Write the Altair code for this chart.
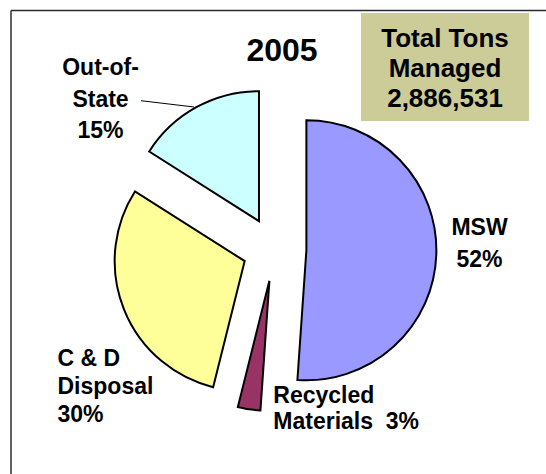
import altair as alt
import pandas as pd

# ---- data ----
categories = ["MSW", "Recycled Materials", "C & D Disposal", "Out-of-State"]
shares = [51.1, 2.8, 30.1, 16.0]          # slice sizes (percent of total tons)
slice_colors = ["#9999FF", "#993366", "#FFFF99", "#CCFFFF"]
label_lines = [["MSW", "52%"],
               ["Recycled", "Materials\u00a0\u00a03%"],
               ["C & D", "Disposal", "30%"],
               ["Out-of-", "State", "15%"]]
title_text = "2005"
total_lines = ["Total Tons", "Managed", "2,886,531"]

# ---- layout / style (pixels) ----
W, H = 546, 474
CX, CY, R, EXPLODE = 274.4, 249.2, 130, 32
FONT = "Liberation Sans"
# per label: x anchor, first baseline y, line height, align
label_layout = [(479.5, 235, 31.7, "center"),
                (273.3, 402.7, 26.7, "left"),
                (57.5, 365.7, 28.0, "left"),
                (100.5, 75, 31.7, "center")]

pie_df = pd.DataFrame({"category": categories, "share": shares,
                       "order": list(range(len(categories)))})

color_scale = alt.Scale(domain=categories, range=slice_colors)

pie = (
    alt.Chart(pie_df)
    .transform_window(cum="sum(share)", sort=[alt.SortField("order")], frame=[None, 0])
    .transform_joinaggregate(total="sum(share)")
    .transform_calculate(
        t1="datum.cum / datum.total * 2 * PI",
        t0="(datum.cum - datum.share) / datum.total * 2 * PI",
    )
    .transform_calculate(mid="(datum.t0 + datum.t1) / 2")
    .transform_calculate(
        px=f"{CX} + {EXPLODE} * sin(datum.mid)",
        py=f"{CY} - {EXPLODE} * cos(datum.mid)",
    )
    .mark_arc(radius=R, stroke="black", strokeWidth=2, strokeJoin="miter")
    .encode(
        theta=alt.Theta("t0:Q", scale=None),
        theta2=alt.Theta2("t1:Q"),
        x=alt.X("px:Q", scale=None, axis=None),
        y=alt.Y("py:Q", scale=None, axis=None),
        color=alt.Color("category:N", scale=color_scale, legend=None),
    )
)

# label rows
rows = []
for lines, (lx, ly, lh, al) in zip(label_lines, label_layout):
    for i, t in enumerate(lines):
        rows.append({"text": t, "lx": lx, "ly": ly + i * lh, "align": al})
lab_df = pd.DataFrame(rows)

labels_center = (
    alt.Chart(lab_df[lab_df["align"] == "center"])
    .mark_text(font=FONT, fontSize=23, fontWeight="bold", align="center",
               baseline="alphabetic", color="black")
    .encode(x=alt.X("lx:Q", scale=None), y=alt.Y("ly:Q", scale=None), text="text:N")
)
labels_left = (
    alt.Chart(lab_df[lab_df["align"] == "left"])
    .mark_text(font=FONT, fontSize=23, fontWeight="bold", align="left",
               baseline="alphabetic", color="black")
    .encode(x=alt.X("lx:Q", scale=None), y=alt.Y("ly:Q", scale=None), text="text:N")
)

leader = alt.Chart(pd.DataFrame({"a": [0]})).mark_rule(color="black", strokeWidth=1).encode(
    x=alt.value(141), y=alt.value(100.7), x2=alt.value(194), y2=alt.value(107)
)

title = alt.Chart(pd.DataFrame({"t": [title_text]})).mark_text(
    font=FONT, fontSize=32, fontWeight="bold", align="center", baseline="alphabetic"
).encode(x=alt.value(282), y=alt.value(61), text="t:N")

box = alt.Chart(pd.DataFrame({"a": [0]})).mark_rect(color="#CCCC99").encode(
    x=alt.value(361), x2=alt.value(529), y=alt.value(13), y2=alt.value(121)
)

tot_df = pd.DataFrame({"text": total_lines, "ty": [46.5 + 30 * i for i in range(len(total_lines))]})
total_txt = alt.Chart(tot_df).mark_text(
    font=FONT, fontSize=26, fontWeight="bold", align="center", baseline="alphabetic"
).encode(x=alt.value(445), y=alt.Y("ty:Q", scale=None), text="text:N")

frame_left = alt.Chart(pd.DataFrame({"a": [0]})).mark_rule(color="#2b2b2b", strokeWidth=1.5).encode(
    x=alt.value(11), y=alt.value(10.5), y2=alt.value(H + 5)
)
frame_top = alt.Chart(pd.DataFrame({"a": [0]})).mark_rule(color="#2b2b2b", strokeWidth=1.5).encode(
    x=alt.value(11), x2=alt.value(W + 5), y=alt.value(10.5)
)

chart = (
    alt.layer(frame_left, frame_top, box, total_txt, title, leader, pie, labels_center, labels_left)
    .properties(width=W, height=H, autosize=alt.AutoSizeParams(type="none"), padding=0,
                background="white")
    .configure_view(stroke=None)
)

chart.save("out.html", embed_options={"renderer": "svg", "actions": False})
